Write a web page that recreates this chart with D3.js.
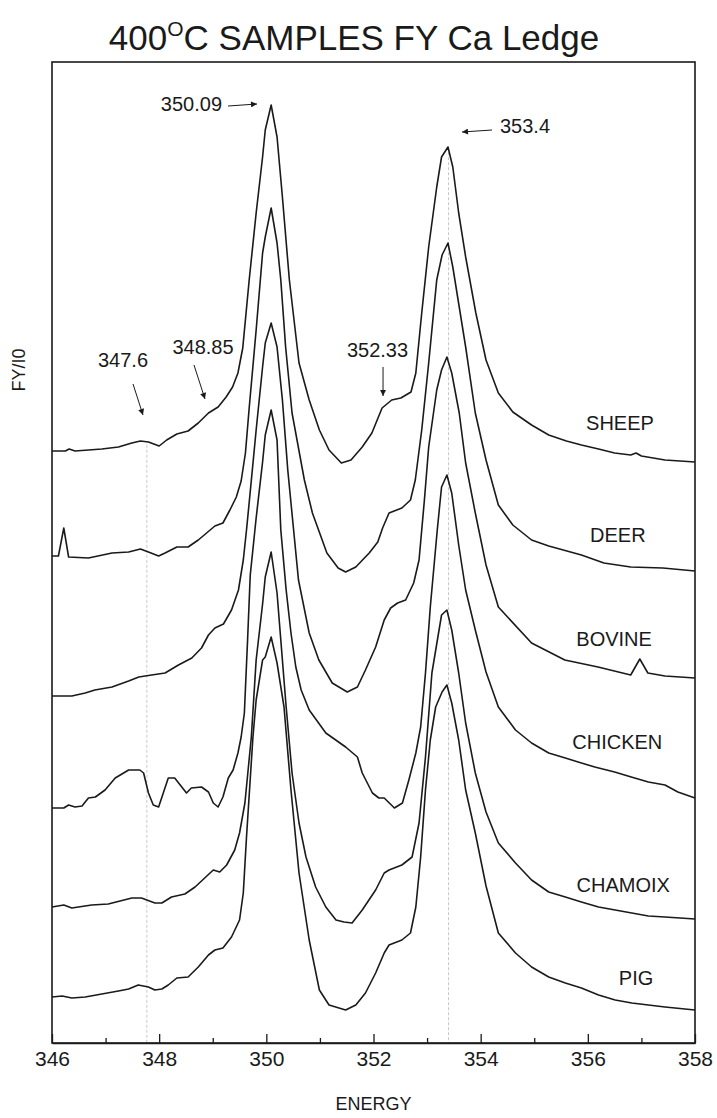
<!DOCTYPE html>
<html>
<head>
<meta charset="utf-8">
<script src="https://cdn.jsdelivr.net/npm/d3@7"></script>
<style>
  body { margin: 0; background: #fff; }
  svg { display: block; }
  text { font-family: "Liberation Sans", Arial, sans-serif; fill: #1a1a1a; }
</style>
</head>
<body>
<svg id="chart" width="717" height="1118"></svg>
<script>
// Stacked Ca L-edge fluorescence-yield spectra, [energy (eV), FY/I0 (offset)]
const samples = ["SHEEP", "DEER", "BOVINE", "CHICKEN", "CHAMOIX", "PIG"];

const sheep = [[346.00,5.92],[346.25,5.92],[346.32,5.94],[346.43,5.92],[346.93,5.94],[347.24,5.96],[347.49,6.00],[347.65,6.02],[347.80,6.01],[348.00,5.97],[348.14,6.03],[348.33,6.09],[348.54,6.12],[348.73,6.20],[348.92,6.30],[349.10,6.36],[349.25,6.46],[349.37,6.56],[349.47,6.70],[349.56,6.95],[349.68,7.63],[349.81,8.30],[349.93,8.86],[349.98,9.13],[350.09,9.38],[350.20,9.06],[350.30,8.46],[350.43,7.63],[350.61,6.80],[350.80,6.43],[350.99,6.13],[351.17,5.93],[351.40,5.80],[351.58,5.83],[351.79,5.96],[351.97,6.10],[352.16,6.35],[352.34,6.43],[352.51,6.45],[352.70,6.51],[352.79,6.70],[352.90,7.30],[353.03,7.96],[353.18,8.56],[353.27,8.86],[353.39,8.96],[353.48,8.76],[353.59,8.30],[353.72,7.86],[353.91,7.30],[354.10,6.83],[354.33,6.50],[354.60,6.31],[354.95,6.18],[355.27,6.08],[355.60,6.02],[355.88,5.98],[356.20,5.94],[356.50,5.90],[356.80,5.88],[356.90,5.90],[357.00,5.87],[357.44,5.83],[358.00,5.81]];

const deer = [[346.00,4.87],[346.12,4.87],[346.22,5.15],[346.31,4.86],[346.68,4.85],[347.12,4.90],[347.43,4.91],[347.65,4.94],[347.80,4.91],[347.99,4.87],[348.11,4.90],[348.33,4.96],[348.54,4.96],[348.73,5.03],[349.04,5.17],[349.19,5.20],[349.32,5.33],[349.44,5.46],[349.53,5.62],[349.61,5.90],[349.68,6.35],[349.81,7.13],[349.93,7.90],[349.98,8.06],[350.09,8.35],[350.20,8.00],[350.27,7.63],[350.36,6.96],[350.48,6.30],[350.71,5.63],[350.86,5.30],[351.13,4.90],[351.34,4.75],[351.48,4.71],[351.67,4.76],[351.92,4.90],[352.08,5.01],[352.17,5.15],[352.29,5.30],[352.53,5.35],[352.69,5.43],[352.78,5.63],[352.90,6.13],[353.03,6.80],[353.18,7.63],[353.28,7.88],[353.39,8.00],[353.48,7.76],[353.60,7.36],[353.72,6.96],[353.90,6.30],[354.10,5.83],[354.33,5.38],[354.60,5.18],[354.95,5.03],[355.27,4.97],[355.88,4.88],[356.30,4.80],[356.80,4.76],[357.40,4.75],[358.00,4.72]];

const bovine = [[346.00,3.47],[346.37,3.47],[346.62,3.50],[346.80,3.53],[347.12,3.56],[347.43,3.62],[347.62,3.66],[347.86,3.68],[348.11,3.70],[348.36,3.78],[348.61,3.85],[348.79,3.95],[348.92,4.08],[349.04,4.15],[349.20,4.19],[349.35,4.33],[349.48,4.53],[349.57,4.83],[349.63,5.13],[349.69,5.46],[349.81,6.13],[349.93,6.76],[349.98,7.00],[350.09,7.20],[350.20,6.96],[350.30,6.43],[350.40,5.73],[350.50,5.18],[350.60,4.63],[350.80,4.10],[350.98,3.83],[351.23,3.60],[351.51,3.51],[351.70,3.56],[351.85,3.73],[352.04,3.96],[352.20,4.23],[352.32,4.35],[352.45,4.40],[352.60,4.43],[352.75,4.60],[352.85,4.83],[352.95,5.43],[353.03,5.96],[353.18,6.53],[353.27,6.73],[353.37,6.86],[353.46,6.70],[353.60,6.30],[353.72,5.80],[353.90,5.30],[354.10,4.78],[354.33,4.36],[354.95,4.00],[355.57,3.83],[356.19,3.76],[356.80,3.68],[356.97,3.84],[357.12,3.70],[357.44,3.67],[358.00,3.65]];

const chicken = [[346.00,2.35],[346.22,2.35],[346.31,2.38],[346.43,2.36],[346.56,2.37],[346.68,2.45],[346.81,2.46],[346.99,2.53],[347.18,2.65],[347.43,2.73],[347.64,2.73],[347.71,2.70],[347.80,2.50],[347.89,2.38],[347.99,2.36],[348.17,2.65],[348.29,2.65],[348.51,2.50],[348.60,2.55],[348.79,2.56],[348.92,2.51],[349.01,2.40],[349.10,2.36],[349.19,2.46],[349.29,2.65],[349.38,2.73],[349.47,2.90],[349.53,3.06],[349.59,3.30],[349.65,4.03],[349.70,4.68],[349.81,5.25],[349.93,5.81],[349.98,6.08],[350.09,6.33],[350.20,6.03],[350.27,5.13],[350.37,4.53],[350.46,4.10],[350.55,3.76],[350.65,3.53],[350.80,3.33],[351.11,3.10],[351.48,2.96],[351.70,2.86],[351.79,2.70],[351.98,2.50],[352.10,2.45],[352.20,2.45],[352.39,2.35],[352.54,2.40],[352.66,2.63],[352.79,2.90],[352.88,3.16],[352.97,3.70],[353.06,4.36],[353.19,5.13],[353.27,5.56],[353.37,5.68],[353.46,5.50],[353.59,4.98],[353.72,4.53],[353.90,4.13],[354.10,3.71],[354.33,3.36],[354.65,3.13],[354.95,3.00],[355.27,2.90],[355.58,2.85],[355.88,2.80],[356.13,2.76],[356.50,2.71],[356.81,2.66],[357.13,2.61],[357.44,2.58],[357.68,2.51],[358.00,2.45]];

const chamoix = [[346.00,1.36],[346.22,1.38],[346.37,1.35],[346.74,1.38],[347.05,1.39],[347.49,1.45],[347.67,1.45],[347.92,1.40],[348.05,1.40],[348.23,1.46],[348.48,1.49],[348.67,1.56],[348.85,1.65],[349.01,1.73],[349.13,1.71],[349.26,1.78],[349.41,1.93],[349.50,2.10],[349.60,2.40],[349.66,2.73],[349.72,3.06],[349.81,3.83],[349.93,4.39],[349.98,4.66],[350.09,4.91],[350.20,4.50],[350.27,4.03],[350.37,3.36],[350.48,2.70],[350.61,2.20],[350.74,1.86],[350.92,1.56],[351.11,1.36],[351.30,1.23],[351.45,1.21],[351.60,1.20],[351.79,1.33],[352.04,1.53],[352.20,1.70],[352.29,1.73],[352.53,1.78],[352.72,1.86],[352.85,2.20],[352.97,2.86],[353.09,3.70],[353.27,4.28],[353.37,4.33],[353.46,4.13],[353.59,3.70],[353.72,3.20],[353.90,2.70],[354.10,2.31],[354.33,2.00],[354.65,1.80],[354.95,1.63],[355.27,1.51],[355.58,1.46],[355.88,1.41],[356.20,1.36],[356.51,1.33],[356.82,1.30],[357.13,1.27],[357.44,1.26],[358.00,1.24]];

const pig = [[346.00,0.46],[346.19,0.47],[346.37,0.45],[346.62,0.46],[346.93,0.49],[347.24,0.52],[347.43,0.54],[347.61,0.58],[347.80,0.56],[347.92,0.53],[348.05,0.54],[348.17,0.58],[348.33,0.65],[348.54,0.66],[348.73,0.76],[348.92,0.88],[349.04,0.93],[349.19,0.95],[349.35,1.06],[349.50,1.23],[349.57,1.50],[349.63,2.06],[349.69,2.56],[349.75,3.06],[349.81,3.43],[349.93,3.83],[349.98,3.86],[350.09,4.06],[350.20,3.80],[350.33,3.36],[350.46,2.53],[350.61,1.70],[350.80,1.03],[350.99,0.53],[351.17,0.38],[351.48,0.33],[351.67,0.38],[351.85,0.50],[352.04,0.70],[352.20,0.90],[352.29,0.98],[352.53,1.03],[352.69,1.10],[352.79,1.36],[352.88,1.86],[352.97,2.53],[353.06,3.03],[353.16,3.36],[353.28,3.51],[353.37,3.58],[353.46,3.40],[353.59,3.03],[353.72,2.53],[353.90,2.10],[354.10,1.57],[354.33,1.10],[354.65,0.90],[354.95,0.76],[355.27,0.66],[355.58,0.60],[355.88,0.55],[356.20,0.48],[356.51,0.43],[356.82,0.40],[357.13,0.38],[357.44,0.36],[358.00,0.33]];

const seriesValues = [sheep, deer, bovine, chicken, chamoix, pig];

// Axis
const energyDomain = [346, 358];
const majorTicks = [346, 348, 350, 352, 354, 356, 358];
const minorTicks = [347, 349, 351, 353, 355, 357];

// Reference energies marked by light drop lines
const guideEnergies = [347.77, 353.4];

// Peak / shoulder call-outs
const noteTexts = ["350.09", "353.4", "347.6", "348.85", "352.33"];

// ---- layout ----
const plot = { left: 52, right: 695, top: 62, bottom: 1043 };

// sample label anchors (energy, value)
const labelSpots = [[356.60, 6.20], [356.56, 5.08], [356.49, 4.04], [356.55, 3.01], [356.66, 1.58], [356.90, 0.65]];
// call-out placement: text anchor, anchor mode, arrow start, arrow end
const noteSpots = [
  { at: [349.173, 9.39], anchor: "end",    from: [349.285, 9.37], to: [349.826, 9.39] },
  { at: [354.361, 9.17], anchor: "start",  from: [354.212, 9.13], to: [353.652, 9.11] },
  { at: [347.325, 6.83], anchor: "middle", from: [347.512, 6.59], to: [347.698, 6.28] },
  { at: [348.818, 6.96], anchor: "middle", from: [348.650, 6.78], to: [348.855, 6.44] },
  { at: [352.075, 6.93], anchor: "middle", from: [352.178, 6.76], to: [352.178, 6.47] }
];

const svg = d3.select("#chart");

const x = d3.scaleLinear().domain(energyDomain).range([plot.left, plot.right]);
const y = d3.scaleLinear().domain([0, (plot.bottom - plot.top) / 100]).range([plot.bottom, plot.top]);

// title with superscript degree mark
const title = svg.append("text")
  .attr("x", 354).attr("y", 50)
  .attr("text-anchor", "middle")
  .style("font-size", "35px");
title.append("tspan").text("400");
title.append("tspan").attr("dy", -14).style("font-size", "21px").text("O");
title.append("tspan").attr("dy", 14).text("C SAMPLES FY Ca Ledge");

// drop lines from the top spectrum to the axis
const interp = (series, e) => {
  const i = d3.bisector(d => d[0]).left(series, e);
  if (i <= 0) return series[0][1];
  const a = series[i - 1], b = series[i];
  return a[1] + (b[1] - a[1]) * (e - a[0]) / (b[0] - a[0]);
};
svg.append("g").selectAll("line").data(guideEnergies).join("line")
  .attr("x1", d => x(d)).attr("x2", d => x(d))
  .attr("y1", d => y(interp(sheep, d)) + 3)
  .attr("y2", plot.bottom)
  .attr("stroke", "#c8c8c8").attr("stroke-width", 1)
  .attr("stroke-dasharray", "3,2");

// spectra
const line = d3.line().x(d => x(d[0])).y(d => y(d[1]));
svg.append("g").selectAll("path").data(seriesValues).join("path")
  .attr("d", line)
  .attr("fill", "none")
  .attr("stroke", "#1a1a1a")
  .attr("stroke-width", 1.6)
  .attr("stroke-linejoin", "round");

// sample labels
svg.append("g").selectAll("text").data(samples).join("text")
  .attr("x", (d, i) => x(labelSpots[i][0]))
  .attr("y", (d, i) => y(labelSpots[i][1]))
  .attr("dy", "0.35em")
  .attr("text-anchor", "middle")
  .style("font-size", "20px")
  .text(d => d);

// arrowhead
svg.append("defs").append("marker")
  .attr("id", "head")
  .attr("viewBox", "0 0 10 10")
  .attr("refX", 10).attr("refY", 5)
  .attr("markerWidth", 9).attr("markerHeight", 6)
  .attr("markerUnits", "userSpaceOnUse")
  .attr("orient", "auto")
  .append("path").attr("d", "M0,0 L10,5 L0,10 Z").attr("fill", "#1a1a1a");

const notes = svg.append("g");
noteTexts.forEach((t, i) => {
  const s = noteSpots[i];
  notes.append("line")
    .attr("x1", x(s.from[0])).attr("y1", y(s.from[1]))
    .attr("x2", x(s.to[0])).attr("y2", y(s.to[1]))
    .attr("stroke", "#1a1a1a").attr("stroke-width", 1)
    .attr("marker-end", "url(#head)");
  notes.append("text")
    .attr("x", x(s.at[0])).attr("y", y(s.at[1]))
    .attr("dy", "0.35em")
    .attr("text-anchor", s.anchor)
    .style("font-size", "20px")
    .text(t);
});

// frame
svg.append("rect")
  .attr("x", plot.left).attr("y", plot.top)
  .attr("width", plot.right - plot.left).attr("height", plot.bottom - plot.top)
  .attr("fill", "none").attr("stroke", "#1a1a1a").attr("stroke-width", 1.6);

// x axis: inward major and minor ticks
const xAxis = svg.append("g")
  .attr("transform", `translate(0,${plot.bottom})`)
  .call(d3.axisBottom(x).tickValues(majorTicks).tickFormat(d3.format("d"))
    .tickSizeInner(-9).tickSizeOuter(0).tickPadding(8));
xAxis.select(".domain").attr("stroke", "#1a1a1a").attr("stroke-width", 1.6);
xAxis.selectAll(".tick line").attr("stroke", "#1a1a1a").attr("stroke-width", 1.3);
xAxis.selectAll(".tick text")
  .style("font-family", "'Liberation Sans', Arial, sans-serif")
  .style("font-size", "21px").attr("fill", "#1a1a1a");

const xMinor = svg.append("g")
  .attr("transform", `translate(0,${plot.bottom})`)
  .call(d3.axisBottom(x).tickValues(minorTicks).tickFormat("").tickSizeInner(-5).tickSizeOuter(0));
xMinor.select(".domain").remove();
xMinor.selectAll(".tick line").attr("stroke", "#1a1a1a").attr("stroke-width", 1.3);

// axis titles
svg.append("text")
  .attr("x", (plot.left + plot.right) / 2).attr("y", 1110)
  .attr("text-anchor", "middle")
  .style("font-size", "18px")
  .text("ENERGY");

svg.append("text")
  .attr("transform", `translate(25,370) rotate(-90)`)
  .attr("text-anchor", "middle")
  .style("font-size", "18px")
  .text("FY/I0");
</script>
</body>
</html>
